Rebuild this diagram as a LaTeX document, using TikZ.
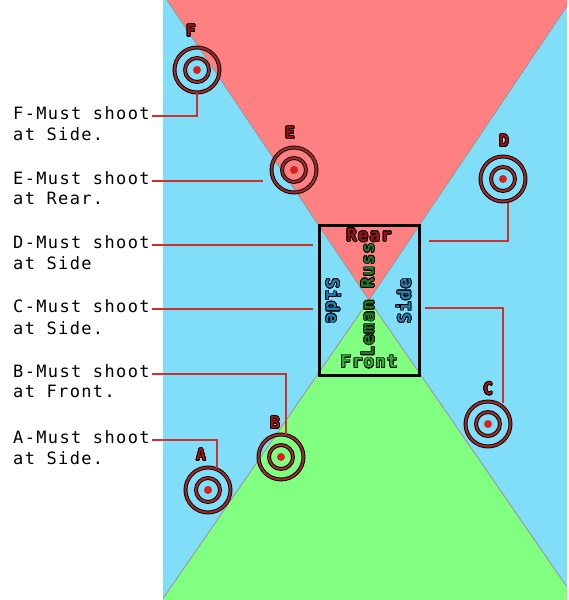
\documentclass[tikz,border=0pt]{standalone}
\usepackage{fontspec}
\newfontfamily\lblfont[LetterSpace=8]{DejaVu Sans Mono}
\newfontfamily\boxfont[LetterSpace=6]{DejaVu Sans Mono}
\usepackage{contour}
\contourlength{0.7pt}
\definecolor{skyb}{HTML}{80DEF8}
\definecolor{rearc}{HTML}{FF8080}
\definecolor{frontc}{HTML}{80FF80}
\definecolor{ringred}{HTML}{A02828}
\definecolor{dotred}{HTML}{D82020}
\definecolor{linkred}{HTML}{D03030}
\definecolor{rearred}{HTML}{A01010}
\definecolor{frontgreen}{HTML}{30B030}
\definecolor{lemangreen}{HTML}{207A20}
\definecolor{sideblue}{HTML}{2A7FB0}
\tikzset{
  edge/.style={draw=gray!80, line width=0.9pt},
  ringst/.style={draw=black, double=ringred, double distance=2.1pt, line width=0.9pt},
  target/.style={circle, ringst, minimum size=45pt, inner sep=0pt},
  link/.style={draw=linkred, line width=1.8pt},
  lbl/.style={font=\lblfont\fontsize{17}{20}\selectfont, anchor=west, inner xsep=2pt, inner ysep=0pt, text height=0.9em, text depth=0.17em},
  lbltwo/.style={lbl, inner xsep=0pt},
  boxlbl/.style={font=\boxfont\bfseries\fontsize{17.5}{19}\selectfont, inner sep=0pt},
  tlbl/.style={font=\boxfont\bfseries\fontsize{16.5}{18}\selectfont, text=rearred, inner sep=0pt},
  tankbox/.style={draw=black, line width=3pt, minimum width=100pt, minimum height=150pt, inner sep=0pt}
}
\begin{document}
\begin{tikzpicture}[x=1pt,y=-1pt]
\useasboundingbox (0,0) rectangle (569,600);
\fill[white] (0,0) rectangle (569,600);
\fill[skyb] (163,0) rectangle (567,600);
\begin{scope}
  \clip (163,0) rectangle (567,600);
  \fill[rearc] (167,0) -- (571,0) -- (369,300) -- cycle;
  \fill[frontc] (162,600) -- (576,600) -- (369,300) -- cycle;
  \draw[edge] (167,0) -- (369,300) -- (571,0);
  \draw[edge] (162,600) -- (369,300) -- (576,600);
\end{scope}

% tank box
\node[tankbox] (box) at (369,300) {};
\node[boxlbl, text=rearred] (rear) at (369,235.5) {\contour{black}{Rear}};
\node[boxlbl, text=frontgreen] (front) at (369,362) {\contour{black}{Front}};
\node[boxlbl, text=sideblue, rotate=-90] (sideL) at (333,301) {\contour{black}{Side}};
\node[boxlbl, text=sideblue, rotate=90] (sideR) at (404,301) {\contour{black}{Side}};
\node[boxlbl, text=lemangreen, rotate=90] (leman) at (368,300) {\contour{black}{Leman Russ}};

% targets
\foreach \n/\x/\y in {F/197/70, E/294/170, D/503/179, C/488/424, B/281/457, A/208/490}{
  \node[target] (\n) at (\x,\y) {};
  \draw[ringst] (\n.center) circle[radius=12];
  \fill[dotred] (\n.center) circle[radius=4];
}
\node[tlbl] (lF) at (191,31) {\contour{black}{F}};
\node[tlbl] (lE) at (290,133) {\contour{black}{E}};
\node[tlbl] (lD) at (504,141) {\contour{black}{D}};
\node[tlbl] (lC) at (488,389) {\contour{black}{C}};
\node[tlbl] (lB) at (275,423) {\contour{black}{B}};
\node[tlbl] (lA) at (201,455) {\contour{black}{A}};

% left texts
\node[lbl] (tF1) at (11,116) {F-Must shoot};
\node[lbltwo] (tF2) at (13,137) {at Side.};
\node[lbl] (tE1) at (11,181) {E-Must shoot};
\node[lbltwo] (tE2) at (13,201) {at Rear.};
\node[lbl] (tD1) at (11,245) {D-Must shoot};
\node[lbltwo] (tD2) at (13,266) {at Side};
\node[lbl] (tC1) at (11,309) {C-Must shoot};
\node[lbltwo] (tC2) at (13,331) {at Side.};
\node[lbl] (tB1) at (11,374) {B-Must shoot};
\node[lbltwo] (tB2) at (13,394) {at Front.};
\node[lbl] (tA1) at (11,440) {A-Must shoot};
\node[lbltwo] (tA2) at (13,461) {at Side.};

% connectors
\coordinate (eE) at (263,181);
\coordinate (dL) at (313,245);
\coordinate (dR) at (429,241);
\coordinate (dK) at (508,241);
\coordinate (dE) at (508,203);
\coordinate (cL) at (313,309);
\coordinate (cR) at (425,308);
\coordinate (cK) at (503,308);
\coordinate (cE) at (503,403);
\coordinate (bK) at (286,374);
\coordinate (aK) at (217,440);
\draw[link] (tF1.east) -| (F.south);
\draw[link] (tE1.east) -- (eE);
\draw[link] (tD1.east) -- (dL);
\draw[link] (dR) -- (dK) -- (dE);
\draw[link] (tC1.east) -- (cL);
\draw[link] (cR) -- (cK) -- (cE);
\draw[link] (tB1.east) -- (bK) -- (bK |- B.north);
\draw[link] (tA1.east) -- (aK) -- ([yshift=-1pt]aK |- A.north);
\end{tikzpicture}
\end{document}
